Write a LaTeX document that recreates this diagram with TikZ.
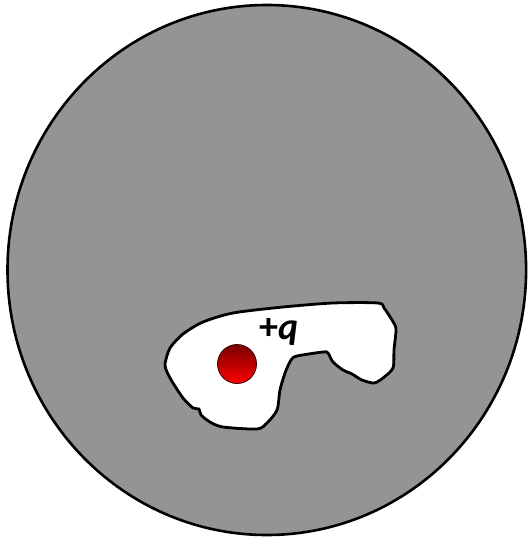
\documentclass[tikz,border=0pt]{standalone}
\usepackage{fontspec}
\setmainfont{Carlito}
\definecolor{shellgray}{RGB}{148,148,148}
\definecolor{chargedark}{RGB}{120,0,0}
\definecolor{chargelight}{RGB}{255,0,0}
\tikzset{
  shell/.style={draw=black, line width=2.6pt, fill=shellgray},
  cavity/.style={draw=black, line width=2.8pt, fill=white},
  charge/.style={circle, draw=black!80!red, line width=0.8pt, minimum size=39pt, inner sep=0pt,
     top color=chargedark, bottom color=chargelight},
  qlabel/.style={font=\fontsize{38}{39}\selectfont\bfseries, inner sep=0pt, anchor=base west}
}
\begin{document}
\begin{tikzpicture}[x=1pt,y=-1pt]
\useasboundingbox (0,0) rectangle (528,541);
\draw[shell] (266.8,270) ellipse [x radius=259.3, y radius=265];
\draw[cavity] plot[smooth cycle, tension=0.45] coordinates {
 (165,364) (170,348) (183,334) (203,322) (233,313) (283,307) (333,303) (378,303)
 (384,308) (392,320) (396,329) (394,350) (393,368) (383,378) (374,383) (362,380)
 (352,374) (343,370) (333,362) (328,353) (323,352) (297,356) (291,360) (285,373)
 (280,390) (277,410) (267,423) (257,429) (223,427) (210,422) (201,415) (199,409)
 (193,408) (183,398) (173,383) (167,372)};
\node[charge] (q) at (237,364) {};
\node[qlabel] (lab) at (259,339) {+\textit{q}};
\end{tikzpicture}
\end{document}
